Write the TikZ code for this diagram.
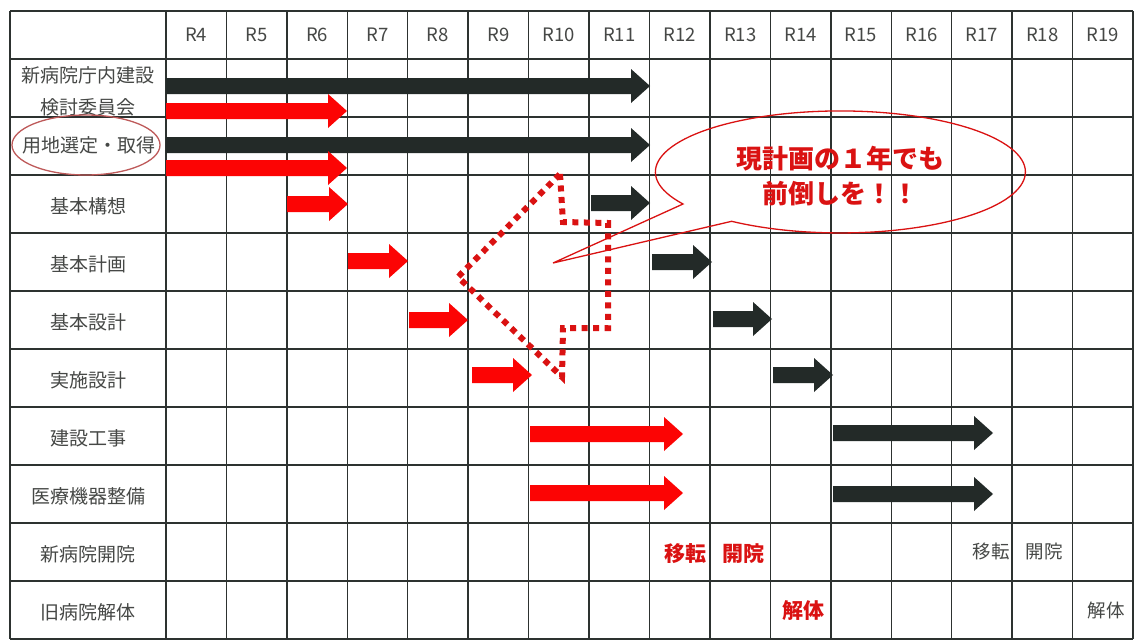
\documentclass[tikz,border=0pt]{standalone}
\usepackage{fontspec}
\setmainfont{Noto Sans CJK JP}
\definecolor{gridc}{RGB}{45,50,48}
\definecolor{lblc}{RGB}{70,72,70}
\definecolor{inkc}{RGB}{35,42,40}
\definecolor{redarrow}{RGB}{252,4,4}
\definecolor{redtxt}{RGB}{218,18,18}
\definecolor{penc}{RGB}{190,90,90}
\newcommand\garrow[4]{\fill[#1] (#2,#4-8) -- (#3-19,#4-8) -- (#3-19,#4-17) -- (#3,#4) -- (#3-19,#4+17) -- (#3-19,#4+8) -- (#2,#4+8) -- cycle;}
\begin{document}
\begin{tikzpicture}[x=1pt,y=-1pt,
  gridline/.style={draw=gridc,line width=1.4pt},
  hdr/.style={font=\fontsize{18.5}{22}\selectfont,text=lblc},
  lbl/.style={font=\fontsize{19}{32}\selectfont,text=lblc,align=center},
  redlbl/.style={font=\bfseries\fontsize{21}{25}\selectfont,text=redtxt},
  graylbl/.style={font=\fontsize{18.5}{22}\selectfont,text=lblc},
  callt/.style={font=\bfseries\fontsize{26}{35}\selectfont,text=redtxt,align=center},
  dotline/.style={draw=redtxt,line width=6pt,dash pattern=on 6pt off 5.5pt},
  balloon/.style={draw=redtxt,line width=1.3pt,line join=miter},
  pen/.style={draw=penc,line width=1.3pt}]
\useasboundingbox[fill=white] (0,0) rectangle (1143,643);
% grid
\draw[gridline] (10,11) -- (1133,11);
\foreach \k in {0,...,10}{\draw[gridline] (10,{59+58*\k}) -- (1133,{59+58*\k});}
\draw[gridline] (10,11) -- (10,639);
\foreach \k in {0,...,16}{\draw[gridline] ({166+60.4375*\k},11) -- ({166+60.4375*\k},639);}
% header
\foreach \i in {4,...,19}{\node[hdr] (h\i) at ({166+60.4375*(\i-3.5)},35) {R\i};}
% row labels
\node[lbl] (l1) at (88,91) {新病院庁内建設\\検討委員会};
\node[lbl] (l2) at (89,145) {用地選定・取得};
\node[lbl] (l3) at (88,206) {基本構想};
\node[lbl] (l4) at (88,264) {基本計画};
\node[lbl] (l5) at (88,322) {基本設計};
\node[lbl] (l6) at (88,380) {実施設計};
\node[lbl] (l7) at (88,438) {建設工事};
\node[lbl] (l8) at (88,496) {医療機器整備};
\node[lbl] (l9) at (88,554) {新病院開院};
\node[lbl] (l10) at (88,612) {旧病院解体};
% hand-drawn circle
\draw[pen] (86,145) ellipse [x radius=74, y radius=30];
% black arrows
\garrow{inkc}{166}{650}{86}
\garrow{inkc}{166}{650}{145}
\garrow{inkc}{591}{650}{203}
\garrow{inkc}{652}{712}{262}
\garrow{inkc}{713}{772}{319}
\garrow{inkc}{773}{833}{375}
\garrow{inkc}{833}{993}{433}
\garrow{inkc}{833}{993}{494}
% red arrows
\garrow{redarrow}{166}{347}{111}
\garrow{redarrow}{166}{347}{168}
\garrow{redarrow}{287}{348}{204}
\garrow{redarrow}{348}{408}{261}
\garrow{redarrow}{409}{468}{320}
\garrow{redarrow}{472}{532}{375}
\garrow{redarrow}{530}{683}{434}
\garrow{redarrow}{530}{683}{493}
% dotted arrow shape
\coordinate (p1) at (560,174);
\coordinate (p2) at (563,222);
\coordinate (p3) at (608,223);
\coordinate (p4) at (608,328);
\coordinate (p5) at (563,328);
\coordinate (p6) at (562,377);
\coordinate (p7) at (458,277);
\draw[dotline] (p1) -- (p2) -- (p3) -- (p4) -- (p5) -- (p6) -- (p7) -- cycle;
% balloon
\coordinate (tip) at (553,263);
\coordinate (b1) at (683,204);
\draw[balloon] (tip) -- (b1) arc[start angle=148.3, end angle=486, x radius=185, y radius=61] -- cycle;
\node[callt] (ct) at (840,176) {現計画の１年でも\\前倒しを！！};
% texts in rows 9-10
\node[redlbl] (m1) at (685,554) {移転};
\node[redlbl] (k1) at (743,554) {開院};
\node[redlbl] (d1) at (803,611) {解体};
\node[graylbl] (m2) at (991,551) {移転};
\node[graylbl] (k2) at (1044,551) {開院};
\node[graylbl] (d2) at (1106,610) {解体};
\end{tikzpicture}
\end{document}
